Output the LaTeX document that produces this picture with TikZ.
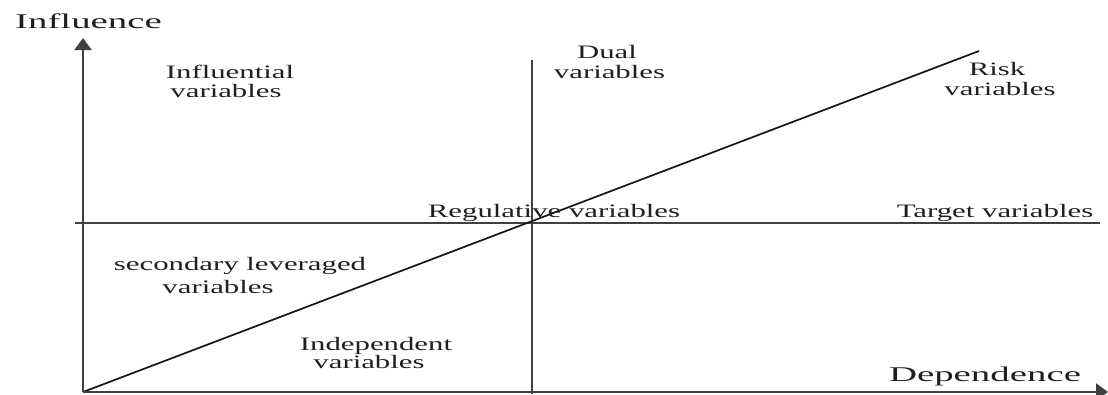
\documentclass[tikz,border=0pt]{standalone}
\usepackage{fontspec}
\setmainfont{Liberation Serif}
\usetikzlibrary{arrows.meta}
\begin{document}
\begin{tikzpicture}[x=1pt,y=-1pt,
  lbl/.style={anchor=base,inner sep=0pt,text=black!88,font=\fontsize{19}{21}\selectfont,xscale=1.62},
  axlbl/.style={anchor=base,inner sep=0pt,text=black!88,font=\fontsize{21}{23}\selectfont,xscale=1.85},
  axis/.style={draw=black!75,line width=2.2pt},
  divider/.style={draw=black!75,line width=1.7pt},
  diag/.style={draw=black!92,line width=1.7pt}]
\useasboundingbox (0,0) rectangle (1108,394);
% coordinates
\coordinate (O) at (83,392);
\coordinate (ytop) at (83,38);
\coordinate (xend) at (1108,392);
\coordinate (vtop) at (532,60);
\coordinate (vbot) at (532,394);
\coordinate (hl) at (75,223);
\coordinate (hr) at (1100,223);
\coordinate (dtop) at (979,51);
% lines
\draw[divider] (vtop) -- (vbot);
\draw[divider] (hl) -- (hr);
\draw[diag] (O) -- (dtop);
\draw[axis,-{Triangle[width=17pt,length=12pt]}] (O) -- (ytop);
\draw[axis,-{Triangle[width=17pt,length=12pt]}] (O) -- (xend);
% labels
\node[axlbl] (infl) at (88.5,28) {Influence};
\node[axlbl] (dep) at (985,381) {Dependence};
\node[lbl] (iv1) at (230,78) {Influential};
\node[lbl] (iv2) at (226,97) {variables};
\node[lbl] (dv1) at (607,58) {Dual};
\node[lbl] (dv2) at (609.5,78) {variables};
\node[lbl] (rv1) at (997,75) {Risk};
\node[lbl] (rv2) at (1000,95) {variables};
\node[lbl] (reg) at (554,217) {Regulative variables};
\node[lbl] (tgt) at (995,217) {Target variables};
\node[lbl] (sl1) at (240,270) {secondary leveraged};
\node[lbl] (sl2) at (218,293) {variables};
\node[lbl] (ind1) at (376,350) {Independent};
\node[lbl] (ind2) at (369,368) {variables};
\end{tikzpicture}
\end{document}
